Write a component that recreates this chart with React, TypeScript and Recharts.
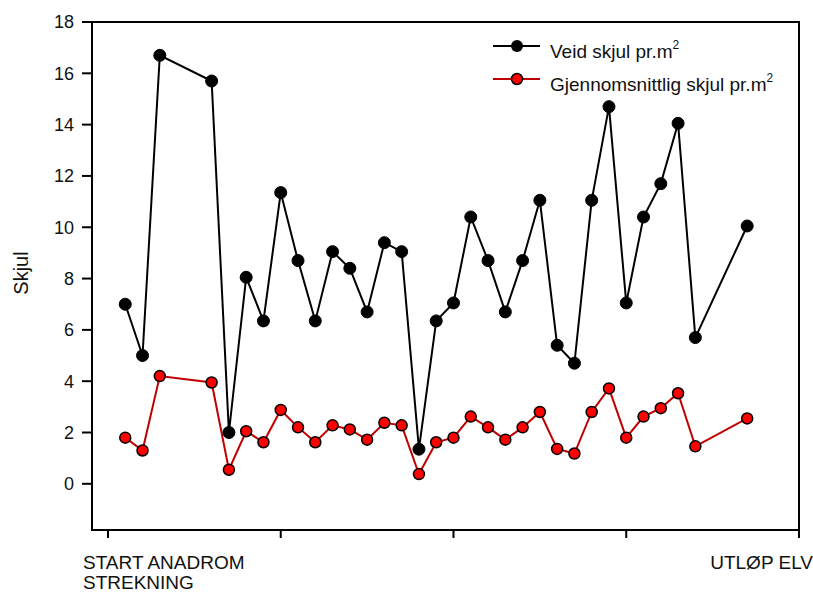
import React from "react";
import { LineChart, Line, XAxis, YAxis, ReferenceArea } from "recharts";

// positions along the river (tenths of a tick step)
const positions = [
  1, 2, 3, 6, 7, 8, 9, 10, 11, 12, 13, 14, 15, 16, 17, 18, 19, 20, 21, 22, 23,
  24, 25, 26, 27, 28, 29, 30, 31, 32, 33, 34, 37,
];
const veidSkjul = [
  7.0, 5.0, 16.7, 15.7, 2.0, 8.05, 6.35, 11.35, 8.7, 6.35, 9.05, 8.4, 6.7, 9.4,
  9.05, 1.35, 6.35, 7.05, 10.4, 8.7, 6.7, 8.7, 11.05, 5.4, 4.7, 11.05, 14.7,
  7.05, 10.4, 11.7, 14.05, 5.7, 10.05,
];
const snittSkjul = [
  1.8, 1.3, 4.2, 3.95, 0.55, 2.05, 1.62, 2.88, 2.2, 1.62, 2.28, 2.12, 1.72, 2.38,
  2.28, 0.38, 1.62, 1.8, 2.62, 2.2, 1.72, 2.2, 2.8, 1.36, 1.18, 2.8, 3.72, 1.8,
  2.62, 2.95, 3.53, 1.46, 2.55,
];
const xTicks = [0, 10, 20, 30, 40];
const yTicks = [0, 2, 4, 6, 8, 10, 12, 14, 16, 18];
const xDomain: [number, number] = [-0.925, 40];
const yDomain: [number, number] = [-1.8, 18];

const data = positions.map((pos, i) => ({
  pos,
  veid: veidSkjul[i],
  snitt: snittSkjul[i],
}));

const FONT = "'Liberation Sans', Arial, sans-serif";

function XTick(props: any) {
  const { x, y, payload } = props;
  if (payload.value === 0) {
    return (
      <text x={x - 25} y={y + 29} fontSize={19} fontFamily={FONT} fill="#111">
        <tspan x={x - 25}>START ANADROM</tspan>
        <tspan x={x - 25} dy={20}>
          STREKNING
        </tspan>
      </text>
    );
  }
  if (payload.value === 40) {
    return (
      <text
        x={x + 14}
        y={y + 29}
        fontSize={19}
        fontFamily={FONT}
        fill="#111"
        textAnchor="end"
      >
        UTLØP ELV
      </text>
    );
  }
  return null;
}

function LegendBox() {
  return (
    <svg width={310} height={70} style={{ display: "block" }}>
      <line x1={13} y1={16} x2={60} y2={16} stroke="#000" strokeWidth={2} />
      <circle cx={37} cy={16} r={6} fill="#000" />
      <text x={70} y={28} fontSize={19} fontFamily={FONT} fill="#111">
        Veid skjul pr.m
        <tspan fontSize={12} dy={-9}>
          2
        </tspan>
      </text>
      <line x1={13} y1={49} x2={60} y2={49} stroke="#c00000" strokeWidth={2} />
      <circle cx={37} cy={49} r={5.5} fill="#ff0000" stroke="#000" strokeWidth={1.5} />
      <text x={70} y={61} fontSize={19} fontFamily={FONT} fill="#111">
        Gjennomsnittlig skjul pr.m
        <tspan fontSize={12} dy={-9}>
          2
        </tspan>
      </text>
    </svg>
  );
}

export default function App() {
  return (
    <div
      style={{
        position: "absolute",
        left: 0,
        top: 0,
        width: 813,
        height: 592,
        background: "#fff",
      }}
    >
      <LineChart
        width={813}
        height={592}
        data={data}
        margin={{ top: 22, right: 14, bottom: 0, left: 0 }}
      >
        <ReferenceArea
          x1={xDomain[0]}
          x2={xDomain[1]}
          y1={yDomain[0]}
          y2={yDomain[1]}
          fill="none"
          stroke="#000"
          strokeWidth={2}
          ifOverflow="visible"
        />
        <XAxis
          dataKey="pos"
          type="number"
          domain={xDomain}
          ticks={xTicks}
          allowDataOverflow
          height={62}
          tickSize={8}
          tick={<XTick />}
          axisLine={{ stroke: "#000", strokeWidth: 2 }}
          tickLine={{ stroke: "#000", strokeWidth: 2 }}
          interval={0}
        />
        <YAxis
          type="number"
          domain={yDomain}
          ticks={yTicks}
          allowDataOverflow
          width={92}
          tickSize={10}
          tickMargin={8}
          interval={0}
          axisLine={{ stroke: "#000", strokeWidth: 2 }}
          tickLine={{ stroke: "#000", strokeWidth: 2 }}
          tick={{ fill: "#111", fontSize: 18, fontFamily: FONT }}
          label={{
            content: () => (
              <text
                x={28}
                y={273}
                transform="rotate(-90 28 273)"
                textAnchor="middle"
                fontSize={20}
                fontFamily={FONT}
                fill="#111"
              >
                Skjul
              </text>
            ),
          }}
        />
        <Line
          dataKey="veid"
          stroke="#000"
          strokeWidth={2}
          dot={{ r: 6, fill: "#000", stroke: "#000", strokeWidth: 1 }}
          activeDot={false}
          isAnimationActive={false}
          type="linear"
        />
        <Line
          dataKey="snitt"
          stroke="#c00000"
          strokeWidth={2}
          dot={{ r: 5.5, fill: "#ff0000", stroke: "#000", strokeWidth: 1.5 }}
          activeDot={false}
          isAnimationActive={false}
          type="linear"
        />
      </LineChart>
      <div style={{ position: "absolute", left: 480, top: 30 }}>
        <LegendBox />
      </div>
    </div>
  );
}
